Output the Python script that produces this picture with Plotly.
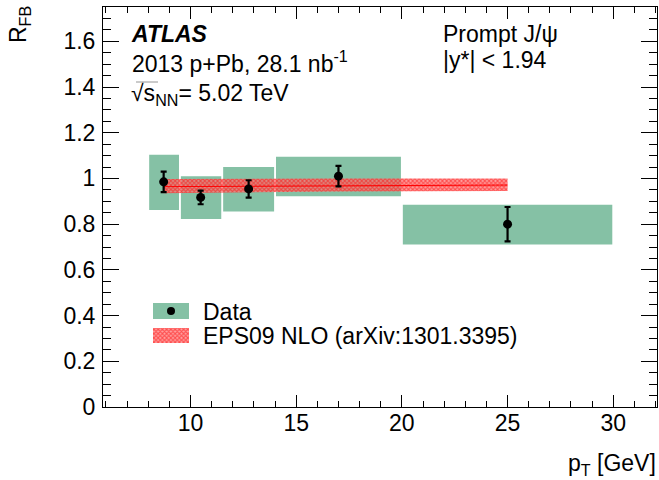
import plotly.graph_objects as go

# ---------------- data ----------------
bin_lo = [8.0, 9.5, 11.5, 14.0, 20.0]
bin_hi = [9.5, 11.5, 14.0, 20.0, 30.0]
pt = [8.73, 10.48, 12.75, 17.0, 25.0]
rfb = [0.985, 0.917, 0.954, 1.010, 0.800]
stat_err = [0.045, 0.030, 0.038, 0.045, 0.075]
sys_lo = [0.862, 0.822, 0.855, 0.922, 0.711]
sys_hi = [1.104, 1.010, 1.050, 1.095, 0.885]

eps_pt = [8.73, 10.48, 12.75, 17.0, 25.0]
eps_mid = [0.964, 0.965, 0.967, 0.969, 0.971]
eps_lo = [0.935, 0.937, 0.940, 0.943, 0.945]
eps_hi = [0.998, 0.999, 1.000, 1.000, 1.000]

x_tick_vals = [10, 15, 20, 25, 30]
y_tick_vals = [0, 0.2, 0.4, 0.6, 0.8, 1, 1.2, 1.4, 1.6]
y_tick_text = ["0", "0.2", "0.4", "0.6", "0.8", "1", "1.2", "1.4", "1.6"]

# ---------------- style ----------------
W, H = 659, 480
ML, MR, MT, MB = 103, 2, 7, 73
PW, PH = W - ML - MR, H - MT - MB
GREEN = "rgb(133,193,165)"
FONT = "Liberation Sans, Arial, Helvetica, sans-serif"
FS = 23


def px(x):
    return (x - ML) / PW


def py(y):
    return (H - MB - y) / PH


red_pattern = dict(shape="x", fgcolor="rgb(255,0,0)", bgcolor="rgba(255,120,120,0.7)",
                   size=3, solidity=0.6)

fig = go.Figure()

# systematic boxes
fig.add_trace(go.Bar(
    x=[(a + b) / 2 for a, b in zip(bin_lo, bin_hi)],
    y=[h - l for l, h in zip(sys_lo, sys_hi)],
    base=sys_lo,
    width=[(b - a) - 0.09 for a, b in zip(bin_lo, bin_hi)],
    marker=dict(color=GREEN, line=dict(width=0)),
    showlegend=False, hoverinfo="skip",
))

# EPS09 band
fig.add_trace(go.Scatter(x=eps_pt, y=eps_lo, mode="lines", line=dict(width=0),
                         showlegend=False, hoverinfo="skip"))
fig.add_trace(go.Scatter(x=eps_pt, y=eps_hi, mode="lines", line=dict(width=0),
                         fill="tonexty", fillcolor="rgba(255,110,110,0.7)",
                         fillpattern=red_pattern, showlegend=False, hoverinfo="skip"))
fig.add_trace(go.Scatter(x=eps_pt, y=eps_mid, mode="lines",
                         line=dict(color="rgb(255,0,0)", width=1),
                         showlegend=False, hoverinfo="skip"))

# data points
fig.add_trace(go.Scatter(
    x=pt, y=rfb, mode="markers",
    marker=dict(color="black", size=9),
    error_y=dict(type="data", array=stat_err, color="black", thickness=2.2, width=3),
    showlegend=False,
))

# legend swatches on a hidden overlay axis (fractions of plot area)
fig.add_trace(go.Scatter(
    x=[px(153), px(189), px(189), px(153), px(153)],
    y=[py(303), py(303), py(319), py(319), py(303)],
    xaxis="x2", yaxis="y2", mode="lines", line=dict(width=0),
    fill="toself", fillcolor=GREEN, showlegend=False, hoverinfo="skip"))
fig.add_trace(go.Scatter(
    x=[px(171)], y=[py(311)], xaxis="x2", yaxis="y2", mode="markers",
    marker=dict(color="black", size=8), showlegend=False, hoverinfo="skip"))
fig.add_trace(go.Scatter(
    x=[px(153), px(189), px(189), px(153), px(153)],
    y=[py(328), py(328), py(343), py(343), py(328)],
    xaxis="x2", yaxis="y2", mode="lines", line=dict(width=0),
    fill="toself", fillcolor="rgba(255,110,110,0.7)", fillpattern=red_pattern,
    showlegend=False, hoverinfo="skip"))

axis_common = dict(showgrid=False, zeroline=False, showline=True, linecolor="black",
                   linewidth=1, mirror="allticks", ticks="inside", tickcolor="black",
                   tickwidth=1, tickfont=dict(family=FONT, size=FS, color="black"))

fig.update_layout(
    width=W, height=H,
    margin=dict(l=ML, r=MR, t=MT, b=MB, pad=0),
    paper_bgcolor="white", plot_bgcolor="white",
    barmode="overlay",
    showlegend=False,
    font=dict(family=FONT, size=FS, color="black"),
    xaxis=dict(range=[5.86, 32.07], tickvals=x_tick_vals, ticklen=12,
               ticklabelstandoff=-5,
               minor=dict(dtick=1, tick0=0, ticklen=6, ticks="inside", tickcolor="black"),
               **axis_common),
    yaxis=dict(range=[0, 1.75], tickvals=y_tick_vals, ticktext=y_tick_text, ticklen=16,
               ticklabelstandoff=2,
               minor=dict(dtick=0.05, tick0=0, ticklen=8, ticks="inside", tickcolor="black"),
               **axis_common),
    xaxis2=dict(range=[0, 1], overlaying="x", visible=False, fixedrange=True),
    yaxis2=dict(range=[0, 1], overlaying="y", visible=False, fixedrange=True),
)


def ann(text, x, y, xanchor="left", size=FS, **kw):
    fig.add_annotation(text=text, x=px(x), y=py(y), xref="paper", yref="paper",
                       xanchor=xanchor, yanchor="middle", showarrow=False,
                       font=dict(family=FONT, size=size, color="black"), **kw)


ann("<b><i>ATLAS</i></b>", 129, 34)
ann("2013 p+Pb, 28.1 nb<sup>-1</sup>", 130, 62)
ann("√s<sub>NN</sub>= 5.02 TeV", 129, 94)
ann("Prompt J/ψ", 441, 34)
ann("|y*| < 1.94", 441, 60)
ann("Data", 201, 312)
ann("EPS09 NLO (arXiv:1301.3395)", 201, 336)
ann("p<sub>T</sub> [GeV]", 658, 464, xanchor="right")
fig.add_annotation(text="R<sub>FB</sub>", x=px(19), y=py(25), xref="paper", yref="paper",
                   xanchor="center", yanchor="middle", showarrow=False, textangle=-90,
                   font=dict(family=FONT, size=FS, color="black"))

# overline of the square root
fig.add_shape(type="line", xref="paper", yref="paper",
              x0=px(136), x1=px(158), y0=py(82), y1=py(82),
              line=dict(color="rgb(150,150,150)", width=1))

fig.write_html("out.html", config={"displayModeBar": False},
               post_script="document.body.style.margin='0';document.body.style.padding='0';")
